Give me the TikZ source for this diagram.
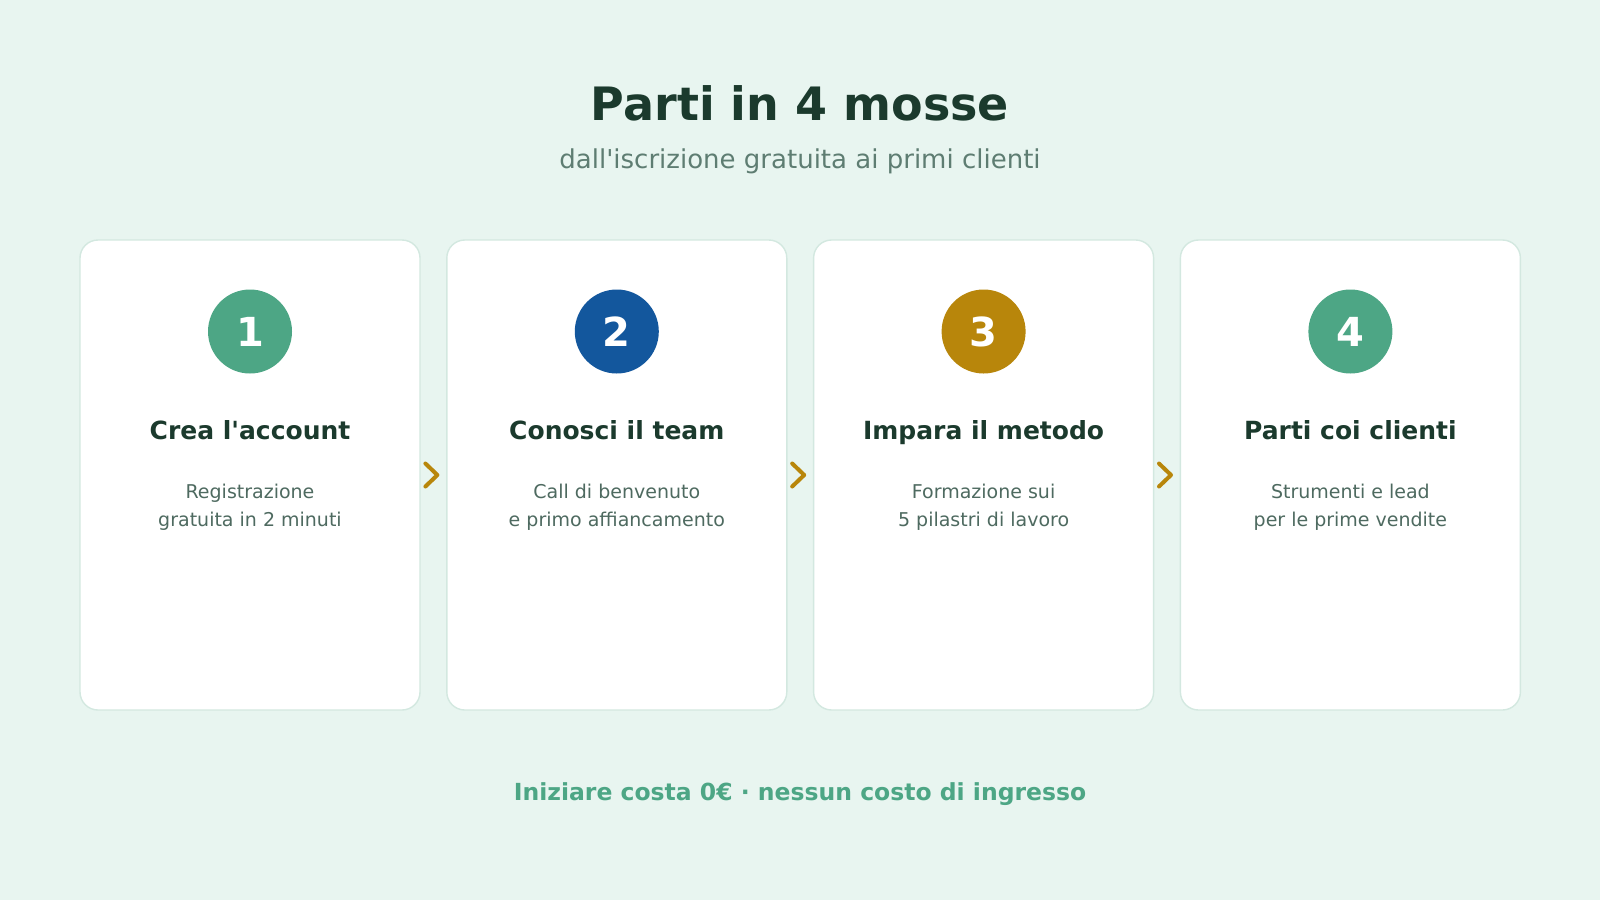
\documentclass[tikz,border=0pt]{standalone}
\usepackage{fontspec}
\setmainfont{DejaVu Sans}
\usetikzlibrary{positioning,calc}
\definecolor{bgmint}{HTML}{E8F5F0}
\definecolor{cardline}{HTML}{D3E8E0}
\definecolor{ink}{HTML}{1B3A2D}
\definecolor{subink}{HTML}{5E7D72}
\definecolor{note}{HTML}{4E6A60}
\definecolor{leaf}{HTML}{4DA685}
\definecolor{navy}{HTML}{13579D}
\definecolor{gold}{HTML}{B8860B}

\begin{document}
\begin{tikzpicture}[x=1pt,y=-1pt,
  node distance=25.4pt,
  card/.style={draw=cardline,fill=white,line width=1.4pt,rounded corners=18pt,minimum width=340pt,minimum height=470pt,inner sep=0pt},
  badge/.style={circle,minimum size=84pt,inner sep=0pt,text=white,font=\fontsize{40}{48}\selectfont\bfseries},
  steptitle/.style={anchor=base,text=ink,font=\fontsize{25}{30}\selectfont\bfseries},
  stepnote/.style={anchor=base,align=center,text=note,font=\fontsize{19}{28}\selectfont},
  chev/.style={draw=gold,line width=4pt,line cap=round,line join=round}]
  \fill[bgmint] (0,0) rectangle (1600,900);
  \useasboundingbox (0,0) rectangle (1600,900);
  % heading
  \node[anchor=base,text=ink,font=\fontsize{46}{55}\selectfont\bfseries] (title) at (800,120) {Parti in 4 mosse};
  \node[anchor=base,text=subink,font=\fontsize{26}{31}\selectfont] (subtitle) at (800,168) {dall\textquotesingle iscrizione gratuita ai primi clienti};
  % cards
  \node[card] (c1) at (250,475) {};
  \node[card,right=of c1] (c2) {};
  \node[card,right=of c2] (c3) {};
  \node[card,right=of c3] (c4) {};
  % step 1
  \node[badge,fill=leaf,below=50pt of c1.north] (b1) {1};
  \node[steptitle] (t1) at ($(c1.north)+(0,200)$) {Crea l\textquotesingle account};
  \node[stepnote] (d1) at ($(c1.north)+(0,287)$) {Registrazione\\gratuita in 2 minuti};
  % step 2
  \node[badge,fill=navy,below=50pt of c2.north] (b2) {2};
  \node[steptitle] (t2) at ($(c2.north)+(0,200)$) {Conosci il team};
  \node[stepnote] (d2) at ($(c2.north)+(0,287)$) {Call di benvenuto\\e primo affiancamento};
  % step 3
  \node[badge,fill=gold,below=50pt of c3.north] (b3) {3};
  \node[steptitle] (t3) at ($(c3.north)+(0,200)$) {Impara il metodo};
  \node[stepnote] (d3) at ($(c3.north)+(0,287)$) {Formazione sui\\5 pilastri di lavoro};
  % step 4
  \node[badge,fill=leaf,below=50pt of c4.north] (b4) {4};
  \node[steptitle] (t4) at ($(c4.north)+(0,200)$) {Parti coi clienti};
  \node[stepnote] (d4) at ($(c4.north)+(0,287)$) {Strumenti e lead\\per le prime vendite};
  % chevrons between cards
  \draw[chev] ($(c1.east)!0.5!(c2.west)+(-8,-11.5)$) -- ++(12,11.5) -- ++(-12,11.5);
  \draw[chev] ($(c2.east)!0.5!(c3.west)+(-8,-11.5)$) -- ++(12,11.5) -- ++(-12,11.5);
  \draw[chev] ($(c3.east)!0.5!(c4.west)+(-8,-11.5)$) -- ++(12,11.5) -- ++(-12,11.5);
  % footer
  \node[anchor=base,text=leaf,font=\fontsize{23.5}{28}\selectfont\bfseries] (footer) at (800,800) {Iniziare costa 0€ · nessun costo di ingresso};
\end{tikzpicture}
\end{document}
